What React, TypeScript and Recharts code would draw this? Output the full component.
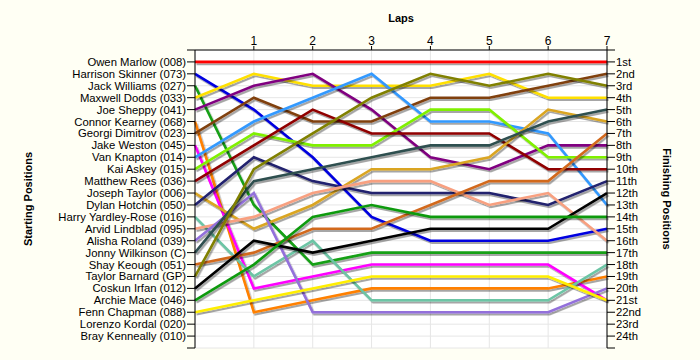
import { LineChart, Line, XAxis, YAxis, CartesianGrid } from 'recharts'

const laps = [0, 1, 2, 3, 4, 5, 6, 7]

const startNames = [
    'Owen Marlow (008)', 'Harrison Skinner (073)', 'Jack Williams (027)', 'Maxwell Dodds (033)',
    'Joe Sheppy (041)', 'Connor Kearney (068)', 'Georgi Dimitrov (023)', 'Jake Weston (045)',
    'Van Knapton (014)', 'Kai Askey (015)', 'Matthew Rees (036)', 'Joseph Taylor (006)',
    'Dylan Hotchin (050)', 'Harry Yardley-Rose (016)', 'Arvid Lindblad (095)', 'Alisha Roland (039)',
    'Jonny Wilkinson (C)', 'Shay Keough (051)', 'Taylor Barnard (GP)', 'Coskun Irfan (012)',
    'Archie Mace (046)', 'Fenn Chapman (088)', 'Lorenzo Kordal (020)', 'Bray Kenneally (010)',
]

const finishLabels = [
    '1st', '2nd', '3rd', '4th', '5th', '6th', '7th', '8th', '9th', '10th', '11th', '12th',
    '13th', '14th', '15th', '16th', '17th', '18th', '19th', '20th', '21st', '22nd', '23rd', '24th',
]

// position per lap, lap 0 = grid
const owenMarlow = [1, 1, 1, 1, 1, 1, 1, 1]
const harrisonSkinner = [2, 5, 9, 14, 16, 16, 16, 15]
const jackWilliams = [3, 13, 18, 17, 17, 17, 17, 17]
const maxwellDodds = [4, 2, 3, 3, 3, 2, 4, 4]
const joeSheppy = [5, 3, 2, 5, 9, 10, 8, 8]
const connorKearney = [6, 22, 21, 20, 20, 20, 20, 19]
const georgiDimitrov = [7, 4, 6, 6, 4, 4, 3, 2]
const jakeWeston = [8, 20, 19, 18, 18, 18, 18, 21]
const vanKnapton = [9, 6, 4, 2, 6, 6, 7, 13]
const kaiAskey = [10, 7, 8, 8, 5, 5, 9, 9]
const matthewRees = [11, 8, 5, 7, 7, 7, 10, 10]
const josephTaylor = [12, 15, 13, 10, 10, 9, 5, 6]
const dylanHotchin = [13, 9, 11, 12, 12, 12, 13, 11]
const harryYardleyRose = [14, 19, 16, 21, 21, 21, 21, 18]
const arvidLindblad = [15, 14, 12, 11, 11, 13, 12, 16]
const alishaRoland = [16, 12, 22, 22, 22, 22, 22, 20]
const jonnyWilkinson = [17, 11, 10, 9, 8, 8, 6, 5]
const shayKeough = [18, 17, 15, 15, 13, 11, 11, 7]
const taylorBarnard = [19, 10, 7, 4, 2, 3, 2, 3]
const coskunIrfan = [20, 16, 17, 16, 15, 15, 15, 12]
const archieMace = [21, 18, 14, 13, 14, 14, 14, 14]
const fennChapman = [22, 21, 20, 19, 19, 19, 19, 21]

const series = [
    { key: 'hs', positions: harrisonSkinner, color: '#0000e0' },
    { key: 'jw', positions: jackWilliams, color: '#14a014' },
    { key: 'md', positions: maxwellDodds, color: '#ffe000' },
    { key: 'js', positions: joeSheppy, color: '#800080' },
    { key: 'ck', positions: connorKearney, color: '#ff8000' },
    { key: 'gd', positions: georgiDimitrov, color: '#804010' },
    { key: 'jwe', positions: jakeWeston, color: '#ff00ff' },
    { key: 'vk', positions: vanKnapton, color: '#3399ff' },
    { key: 'ka', positions: kaiAskey, color: '#80f000' },
    { key: 'mr', positions: matthewRees, color: '#900000' },
    { key: 'jt', positions: josephTaylor, color: '#daa520' },
    { key: 'dh', positions: dylanHotchin, color: '#20206e' },
    { key: 'hyr', positions: harryYardleyRose, color: '#6cc5a5' },
    { key: 'al', positions: arvidLindblad, color: '#f8a080' },
    { key: 'ar', positions: alishaRoland, color: '#9370db' },
    { key: 'jwi', positions: jonnyWilkinson, color: '#2f4f4f' },
    { key: 'sk', positions: shayKeough, color: '#d2691e' },
    { key: 'tb', positions: taylorBarnard, color: '#808000' },
    { key: 'ci', positions: coskunIrfan, color: '#000000' },
    { key: 'am', positions: archieMace, color: '#109a10' },
    { key: 'fc', positions: fennChapman, color: '#ffee00' },
    { key: 'om', positions: owenMarlow, color: '#ff0000' },
]

const data = laps.map((lap, i) => {
    const row: Record<string, number> = { lap }
    series.forEach(s => { row[s.key] = s.positions[i] })
    return row
})

const posTicks = Array.from({ length: 26 }, (_, i) => i)
const font = 'Liberation Sans, Arial, sans-serif'
const tickStyle = { fill: '#000', fontSize: 11.3, fontFamily: font }

export default function App() {
    return (
        <div style={{ width: 700, height: 360, background: '#fffff4', position: 'relative', fontFamily: font }}>
            <style>{`body{margin:0} .recharts-line-curve{filter:url(#lineShadow)}`}</style>
            <svg width="0" height="0" style={{ position: 'absolute' }}>
                <defs>
                    <filter id="lineShadow" filterUnits="userSpaceOnUse" x="0" y="0" width="700" height="360">
                        <feDropShadow dx="1.5" dy="2" stdDeviation="0.6" floodColor="#000" floodOpacity="0.35" />
                    </filter>
                </defs>
            </svg>
            <LineChart width={700} height={360} data={data} margin={{ top: 20, right: 3, bottom: 12, left: 0 }}>
                <CartesianGrid yAxisId="left" stroke="#e6e6e6" fill="#ffffff" />
                <XAxis
                    dataKey="lap" type="number" orientation="top" domain={[0, 7]} ticks={[1, 2, 3, 4, 5, 6, 7]}
                    height={30} tickSize={4} tickMargin={1} interval={0}
                    stroke="#000" tick={{ ...tickStyle, fontSize: 12 }}
                />
                <YAxis
                    yAxisId="left" type="number" domain={[0, 25]} reversed ticks={posTicks} interval={0}
                    allowDataOverflow width={195} tickSize={8} tickMargin={1} stroke="#000"
                    tick={tickStyle}
                    tickFormatter={(v: number) => startNames[v - 1] ?? ''}
                />
                <YAxis
                    yAxisId="right" orientation="right" type="number" domain={[0, 25]} reversed ticks={posTicks} interval={0}
                    allowDataOverflow width={90} tickSize={8} tickMargin={1} stroke="#000"
                    tick={tickStyle}
                    tickFormatter={(v: number) => finishLabels[v - 1] ?? ''}
                />
                {series.map(s => (
                    <Line key={s.key} yAxisId="left" type="linear" dataKey={s.key} stroke={s.color}
                        strokeWidth={2.6} dot={false} activeDot={false} isAnimationActive={false} />
                ))}
                <Line yAxisId="right" type="linear" dataKey="om" stroke="none" strokeWidth={0}
                    dot={false} activeDot={false} isAnimationActive={false} />
            </LineChart>
            <div style={{ position: 'absolute', left: 401, top: 18, transform: 'translate(-50%,-50%)', fontSize: 11, fontWeight: 'bold' }}>Laps</div>
            <div style={{ position: 'absolute', left: 28, top: 199, transform: 'translate(-50%,-50%) rotate(-90deg)', fontSize: 11, fontWeight: 'bold', whiteSpace: 'nowrap' }}>Starting Positions</div>
            <div style={{ position: 'absolute', left: 667, top: 199, transform: 'translate(-50%,-50%) rotate(90deg)', fontSize: 11, fontWeight: 'bold', whiteSpace: 'nowrap' }}>Finishing Positions</div>
        </div>
    )
}
